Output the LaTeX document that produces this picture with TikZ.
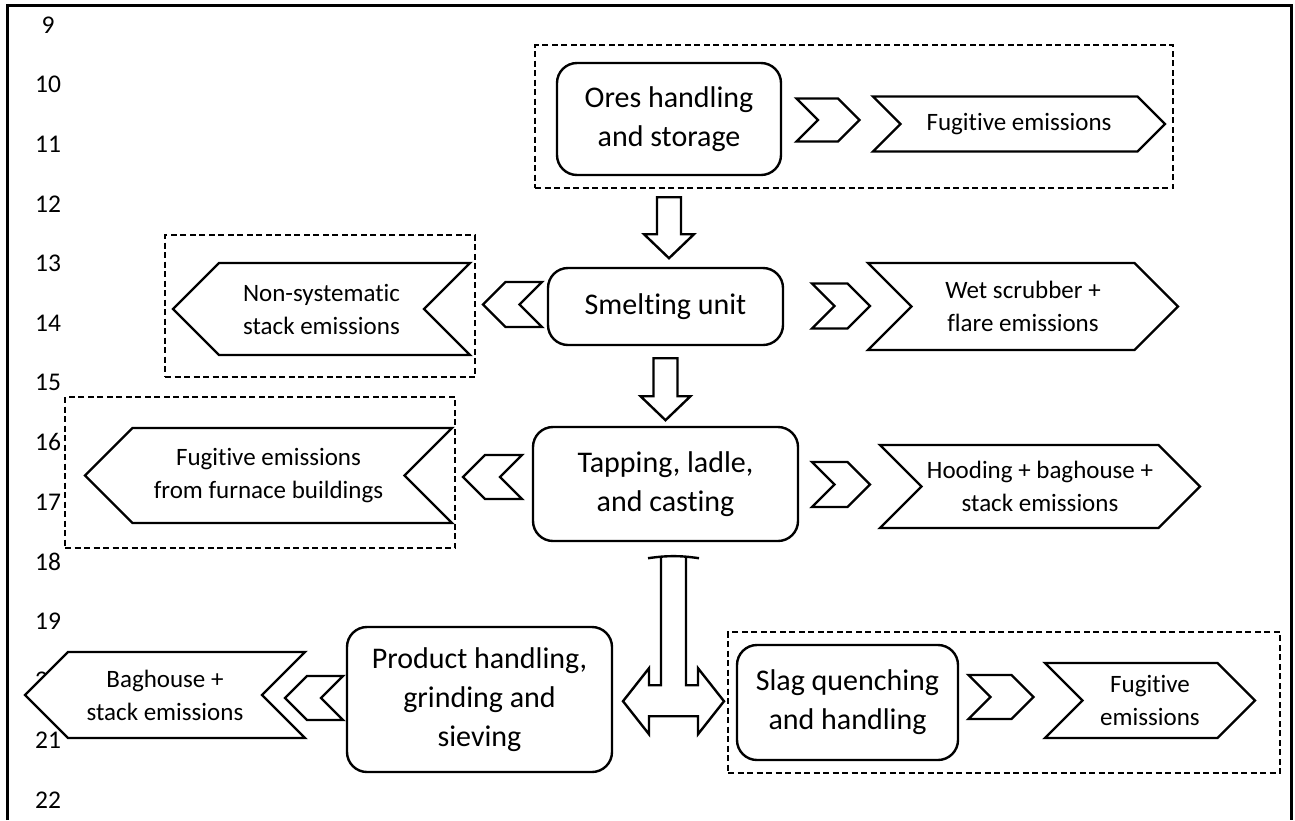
\documentclass[tikz,border=0pt]{standalone}
\usepackage{fontspec}
\setmainfont{Carlito}[RawFeature={-liga;-clig}]
\usetikzlibrary{shapes.symbols, calc}

\begin{document}
\begin{tikzpicture}[
  x=1pt, y=-1pt,
  unit/.style={draw, line width=2.4pt, rounded corners=20pt, align=center, inner sep=0pt, font=\fontsize{30}{39}\selectfont},
  emis/.style={draw, line width=2.4pt, fill=white, shape=signal, signal pointer angle=90, align=center, inner sep=0pt, font=\fontsize{25}{33}\selectfont},
  toR/.style={emis, signal to=east, signal from=west},
  toL/.style={emis, signal to=west, signal from=east},
  grp/.style={draw, dash pattern=on 6pt off 3.5pt, line width=2.4pt, inner sep=0pt},
  blk/.style={draw, line width=2.4pt, fill=white, line join=miter},
  lnum/.style={font=\fontsize{25.5}{30}\selectfont}
]
\useasboundingbox (0,0) rectangle (1295,820);
\draw[line width=3pt] (7,820) -- (7,5) -- (1291,5) -- (1291,820);

% --- line numbers ---
\foreach \n in {9,...,22}
  \node[lnum] (ln\n) at (48,{25+(\n-9)*59.6}) {\n};

% --- dashed groups ---
\node[grp, minimum width=638pt, minimum height=143pt] (gtop)  at (854,116.5) {};
\node[grp, minimum width=310pt, minimum height=142pt] (gnon)  at (320,306)   {};
\node[grp, minimum width=390pt, minimum height=151pt] (gfurn) at (260,472.5) {};
\node[grp, minimum width=552pt, minimum height=141pt] (gslag) at (1004,702.5){};

% --- ores ---
\node[unit, minimum width=224pt, minimum height=112pt] (ores) at (669,119) {Ores handling\\and storage};
\node[toR, minimum width=63pt, minimum height=43pt] (chA) at (828,120) {};
\node[toR, minimum width=292pt, minimum height=55pt] (fugA) at (1019,124) {Fugitive emissions};

% --- smelting ---
\node[unit, minimum width=235pt, minimum height=77pt] (smelt) at (665.5,306.5) {Smelting unit};
\node[toL, minimum width=59pt, minimum height=45pt] (chB) at (512.5,304.5) {};
\node[toL, minimum width=297pt, minimum height=92pt] (nonsys) at (321.5,309) {Non-systematic\\stack emissions};
\node[toR, minimum width=58pt, minimum height=45pt] (chC) at (841,306) {};
\node[toR, minimum width=310pt, minimum height=87pt] (wet) at (1023,306.5) {Wet scrubber +\\flare emissions};

% --- tapping ---
\node[unit, minimum width=265pt, minimum height=114pt] (tap) at (665.5,484) {Tapping, ladle,\\and casting};
\node[toL, minimum width=59pt, minimum height=44pt] (chD) at (492.5,477) {};
\node[toL, minimum width=367pt, minimum height=95pt] (furn) at (268.5,475.5) {Fugitive emissions\\from furnace buildings};
\node[toR, minimum width=58pt, minimum height=45pt] (chE) at (841,484.5) {};
\node[toR, minimum width=320pt, minimum height=83pt] (hood) at (1040,486.5) {Hooding + baghouse +\\stack emissions};

% --- product and slag ---
\node[unit, minimum width=265pt, minimum height=145pt] (prod) at (479.5,699.5) {Product handling,\\grinding and\\sieving};
\node[toL, minimum width=58pt, minimum height=44pt] (chF) at (314,698) {};
\node[toL, minimum width=280pt, minimum height=86pt] (bag) at (165,695) {Baghouse +\\stack emissions};
\node[unit, minimum width=221pt, minimum height=115pt] (slag) at (847.5,702.5) {Slag quenching\\and handling};
\node[toR, minimum width=65pt, minimum height=44pt] (chG) at (1001,697) {};
\node[toR, minimum width=210pt, minimum height=75pt] (fugB) at (1150,700.5) {Fugitive\\emissions};

% --- block arrows ---
\draw[blk] ($(ores.south)+(-12,21)$) -- ++(0,37) -- ++(-13,0) -- ++(25,24) -- ++(25,-24) -- ++(-13,0) -- ++(0,-37) -- cycle;
\draw[blk] ($(smelt.south)+(-12,12)$) -- ++(0,38) -- ++(-13,0) -- ++(25,24) -- ++(25,-24) -- ++(-13,0) -- ++(0,-38) -- cycle;
% split to product and slag
\draw[blk] ($(tap.south)+(-4.5,16)$) -- ++(0,127) -- ++(-12,0) -- ++(0,-17) -- ++(-26,33) -- ++(26,33) -- ++(0,-18)
  -- ++(49,0) -- ++(0,18) -- ++(26,-33) -- ++(-26,-33) -- ++(0,17) -- ++(-12,0) -- ++(0,-127);
\draw[line width=2.4pt] ($(tap.south)+(-17.5,16)$) to[bend left=8] ++(51,0);
\end{tikzpicture}
\end{document}
